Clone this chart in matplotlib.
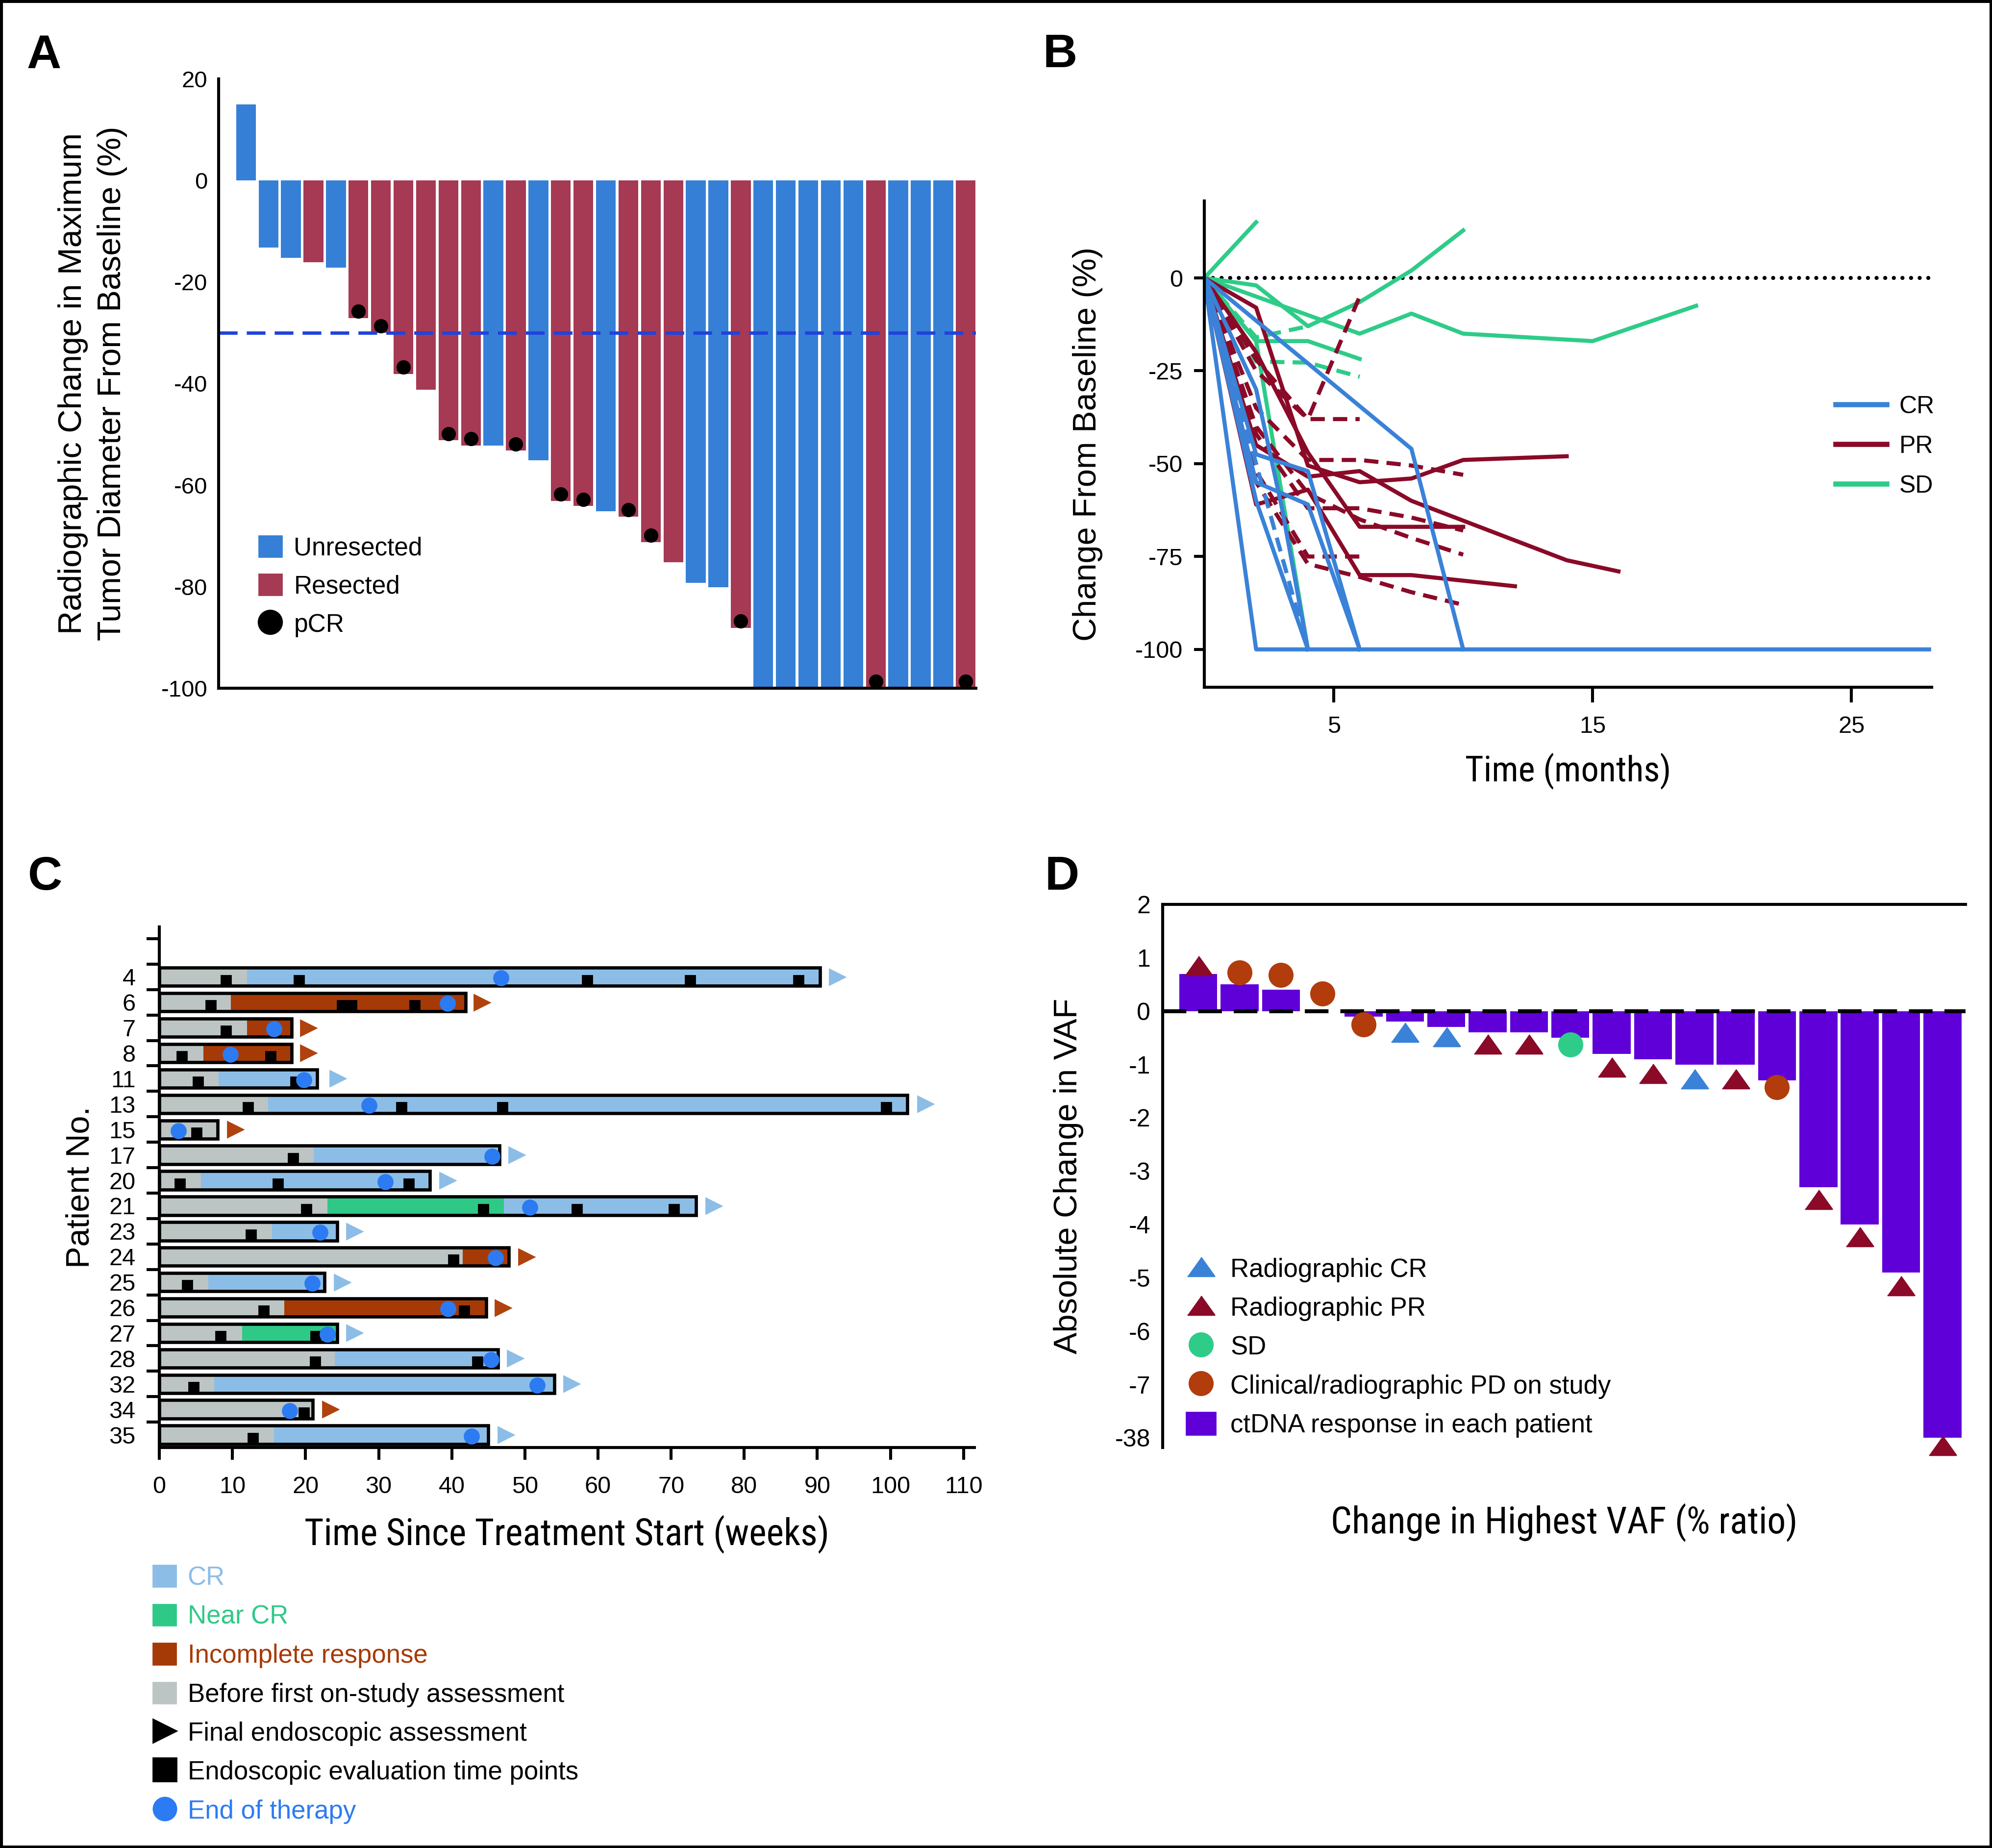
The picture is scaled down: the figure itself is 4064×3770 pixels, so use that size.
import numpy as np
import matplotlib
matplotlib.use('Agg')
import matplotlib.pyplot as plt
from matplotlib import font_manager
from matplotlib.patches import Patch, Rectangle
from matplotlib.lines import Line2D

# ---- panel A: radiographic change (waterfall)
tumor_change = [15, -13.2, -15.2, -16.1, -17.2, -27.1, -30.0, -38.1, -41.2, -51.2, -52.2,
                -52.2, -53.2, -55.1, -63.1, -64.1, -65.2, -66.2, -71.2, -75.2, -79.2, -80.1,
                -88.1, -100, -100, -100, -100, -100, -100, -100, -100, -100, -100]
resected = [0, 0, 0, 1, 0, 1, 1, 1, 1, 1, 1, 0, 1, 0, 1, 1, 0, 1, 1, 1, 0, 0, 1,
            0, 0, 0, 0, 0, 1, 0, 0, 0, 1]
pcr = [0, 0, 0, 0, 0, 1, 1, 1, 0, 1, 1, 0, 1, 0, 1, 1, 0, 1, 1, 0, 0, 0, 1,
       0, 0, 0, 0, 0, 1, 0, 0, 0, 1]

# ---- panel B: change from baseline over time (months, %)
cr_solid = [
    ([0, 2, 28], [0, -100, -100]),
    ([0, 8, 10], [0, -46, -100]),
    ([0, 2, 4, 6], [0, -47.5, -52, -100]),
    ([0, 2, 4, 6], [0, -55, -61, -100]),
    ([0, 2, 4], [0, -60, -100]),
    ([0, 2, 3, 4], [0, -30, -62, -100]),
]
cr_dashed = [
    ([0, 2, 4], [0, -50, -100]),
]
pr_solid = [
    ([0, 2, 4, 6, 8, 10, 14], [0, -8, -50.5, -55, -54, -49, -48]),
    ([0, 2, 4, 6, 8, 14, 16], [0, -45, -53.5, -52, -60, -76, -79]),
    ([0, 2, 4, 6, 8, 12], [0, -61, -57, -80, -80, -83]),
    ([0, 2, 4, 6, 10], [0, -20, -47, -67, -67]),
]
pr_dashed = [
    ([0, 2, 4, 6], [0, -22, -38, -5]),
    ([0, 2, 4, 6], [0, -25, -38, -38]),
    ([0, 2, 4, 6, 8, 10], [0, -35, -49, -49, -50.5, -53]),
    ([0, 2, 4, 6, 8, 10], [0, -42, -62, -62, -64.5, -68]),
    ([0, 2, 4, 6, 8, 10], [0, -40, -58, -65, -70, -74.5]),
    ([0, 2, 4, 6], [0, -52, -75, -75]),
    ([0, 2, 4, 6, 8, 10], [0, -55, -77, -80.5, -84.6, -88]),
]
sd_solid = [
    ([0, 2], [0, 15]),
    ([0, 2, 4, 6, 8, 10], [0, -2, -13, -6.5, 2, 12.8]),
    ([0, 6, 8, 10, 15, 19], [0, -15, -9.6, -15, -17, -7.5]),
    ([0, 2, 4, 6], [0, -17, -17, -21.8]),
    ([0, 2, 4], [0, -17, -100]),
]
sd_dashed = [
    ([0, 2, 4, 6], [0, -22.5, -22.8, -26.6]),
    ([0, 2, 4], [0, -16, -13]),
]

# ---- panel C: swimmer plot (weeks)
patients = ['4', '6', '7', '8', '11', '13', '15', '17', '20', '21', '23', '24', '25',
            '26', '27', '28', '32', '34', '35']
bar_end = [90.4, 41.9, 18.1, 18.1, 21.6, 102.3, 8.0, 46.5, 37.0, 73.4, 24.3, 47.8,
           22.6, 44.7, 24.3, 46.3, 54.0, 21.0, 45.0]
gray_end = [12.0, 9.8, 12.0, 6.0, 8.1, 14.9, 8.0, 21.1, 5.7, 23.0, 15.4, 41.5, 6.7,
            17.1, 11.3, 24.0, 7.5, 21.0, 15.7]
response = ['CR', 'IR', 'IR', 'IR', 'CR', 'CR', 'CR', 'CR', 'CR', 'NCR', 'CR', 'IR',
            'CR', 'IR', 'NCR', 'CR', 'CR', 'CR', 'CR']
cr_from = [None, None, None, None, None, None, None, None, None, 47.1, None, None,
           None, None, None, None, None, None, None]
endo_weeks = [
    [9.1, 19.1, 58.5, 72.6, 87.4],
    [7.0, 25.0, 26.3, 34.9],
    [9.1],
    [3.1, 15.2],
    [5.3, 18.6],
    [12.1, 33.1, 46.9, 99.4],
    [5.1],
    [18.3],
    [2.8, 16.2, 34.1],
    [20.1, 44.3, 57.1, 70.4],
    [12.5],
    [40.2],
    [3.8],
    [14.3, 41.7],
    [8.4, 21.4],
    [21.3, 43.5],
    [4.7],
    [19.8],
    [12.8],
]
end_therapy = [46.7, 39.4, 15.7, 9.7, 19.8, 28.7, 2.6, 45.5, 30.9, 50.7, 22.0, 46.0,
               20.9, 39.5, 23.0, 45.4, 51.7, 17.8, 42.7]
final_assess = [92.7, 44.1, 20.4, 20.4, 24.4, 104.8, 10.4, 48.9, 39.4, 75.8, 26.7,
                50.2, 25.0, 47.0, 26.7, 48.7, 56.4, 23.4, 47.4]
final_outcome = ['CR', 'IR', 'IR', 'IR', 'CR', 'CR', 'IR', 'CR', 'CR', 'CR', 'CR', 'IR',
                 'CR', 'IR', 'CR', 'CR', 'CR', 'IR', 'CR']

# ---- panel D: ctDNA change
vaf_change = [0.7, 0.5, 0.4, 0, -0.1, -0.2, -0.3, -0.4, -0.4, -0.5, -0.8, -0.9, -1.0,
              -1.0, -1.3, -3.3, -4.0, -4.9, -38]
vaf_marker = ['PR', 'PD', 'PD', 'PD', 'PD', 'CR', 'CR', 'PR', 'PR', 'SD', 'PR', 'PR', 'CR',
              'PR', 'PD', 'PR', 'PR', 'PR', 'PR']
vaf_marker_y = [0.85, 0.72, 0.68, 0.33, -0.25, -0.40, -0.48, -0.62, -0.62, -0.63, -1.05,
                -1.17, -1.27, -1.27, -1.43, -3.53, -4.23, -5.15, -42.5]
vaf_ticks = [2, 1, 0, -1, -2, -3, -4, -5, -6, -7, -38]

# colours
A_BLUE, A_RED = '#3580D6', '#A63953'
B_CR, B_PR, B_SD = '#3A82D8', '#8A0A28', '#2ECC88'
C_CR, C_NCR, C_IR, C_GRAY, C_DOT = '#8CBDE6', '#2FC987', '#A63A06', '#BCC4C4', '#2C7BF2'
D_PURPLE, D_PD = '#6000D8', '#B23C0C'


def narrow_font():
    # a condensed face for the x axis titles, if one is around
    fl = font_manager.fontManager.ttflist
    names = {f.name for f in fl}
    for n in ('Liberation Sans Narrow', 'Roboto Condensed', 'Noto Sans Condensed',
              'Open Sans Condensed', 'DejaVu Sans Condensed'):
        if n in names:
            return dict(family=n)
    for pref in ('Roboto', 'Noto Sans', 'Open Sans', 'Liberation Sans', 'DejaVu Sans'):
        for f in fl:
            if f.name == pref and str(f.stretch) in ('condensed', 'semi-condensed'):
                return dict(family=pref, stretch=f.stretch)
    return dict(family='Liberation Sans')


NARROW = narrow_font()
plt.rcParams['font.family'] = ['Liberation Sans', 'DejaVu Sans']
plt.rcParams['axes.unicode_minus'] = False
plt.rcParams['axes.linewidth'] = 2.2
plt.rcParams['xtick.major.width'] = 2.2
plt.rcParams['ytick.major.width'] = 2.2
plt.rcParams['ytick.minor.width'] = 2.2

fig = plt.figure(figsize=(20.32, 18.85), dpi=200)


def clean(ax, keep=('left', 'bottom')):
    for s in ax.spines:
        ax.spines[s].set_visible(s in keep)


# ================= A
axA = fig.add_axes([0.1097, 0.6276, 0.3802, 0.3297])
xa = np.arange(len(tumor_change))
axA.bar(xa, tumor_change, width=0.88, color=[A_RED if r else A_BLUE for r in resected])
pi = [i for i in xa if pcr[i]]
axA.plot(pi, [tumor_change[i] + 1.3 for i in pi], 'o', color='black', ms=9.5, clip_on=False)
axA.axhline(-30, color='#2143DB', lw=2.5, ls=(0, (5.5, 2.7)))
axA.set_xlim(-1.22, 32.45)
axA.set_ylim(-100, 20)
axA.set_yticks(range(20, -101, -20))
axA.set_xticks([])
axA.tick_params(axis='y', length=0, pad=8, labelsize=17)
clean(axA)
axA.set_ylabel('Radiographic Change in Maximum\nTumor Diameter From Baseline (%)',
               fontsize=24, linespacing=1.38)
axA.yaxis.set_label_coords(-0.120, 0.5)
hA = [Patch(color=A_BLUE), Patch(color=A_RED),
      Line2D([], [], ls='', marker='o', color='black', ms=17.5)]
axA.legend(hA, ['Unresected', 'Resected', 'pCR'], loc='upper left',
           bbox_to_anchor=(0.1299, 0.7101), bbox_transform=fig.transFigure,
           frameon=False, fontsize=18.5, borderpad=0, borderaxespad=0,
           handlelength=0.91, handleheight=0.91, handletextpad=0.48, labelspacing=0.55)

# ================= B
axB = fig.add_axes([0.6046, 0.6281, 0.3651, 0.2631])
axB.axhline(0, color='black', lw=3.0, ls=(0, (0.01, 2.1)), dash_capstyle='round')
LW = 3.0
for xs, ys in sd_solid:
    axB.plot(xs, ys, color=B_SD, lw=LW)
for xs, ys in sd_dashed:
    axB.plot(xs, ys, color=B_SD, lw=LW, ls=(0, (3.5, 2)))
for xs, ys in pr_solid:
    axB.plot(xs, ys, color=B_PR, lw=LW)
for xs, ys in pr_dashed:
    axB.plot(xs, ys, color=B_PR, lw=LW, ls=(0, (3.5, 2)))
for xs, ys in cr_solid:
    axB.plot(xs, ys, color=B_CR, lw=LW)
for xs, ys in cr_dashed:
    axB.plot(xs, ys, color=B_CR, lw=LW, ls=(0, (3.5, 2)))
axB.set_xlim(0, 28.1)
axB.set_ylim(-110.2, 20.7)
axB.set_xticks([5, 15, 25])
axB.set_yticks([0, -25, -50, -75, -100])
axB.tick_params(axis='x', length=11, pad=10, labelsize=17.5)
axB.tick_params(axis='y', length=7.7, pad=8, labelsize=17.5)
clean(axB)
axB.set_ylabel('Change From Baseline (%)', fontsize=24)
axB.yaxis.set_label_coords(-0.1395, 0.5)
axB.set_xlabel('Time (months)', fontsize=29, **NARROW)
axB.xaxis.set_label_coords(0.5, -0.134)
hB = [Line2D([], [], color=c, lw=3.8) for c in (B_CR, B_PR, B_SD)]
axB.legend(hB, ['CR', 'PR', 'SD'], loc='upper left', bbox_to_anchor=(0.9215, 0.7860),
           bbox_transform=fig.transFigure, frameon=False, fontsize=18, borderpad=0,
           borderaxespad=0, handlelength=2.08, handletextpad=0.52, labelspacing=0.7)

# ================= C
axC = fig.add_axes([0.0800, 0.2167, 0.4092, 0.2817])
rows = np.arange(len(patients))
seg_color = {'CR': C_CR, 'NCR': C_NCR, 'IR': C_IR}
axC.barh(rows, gray_end, height=0.72, color=C_GRAY)
for r in rows:
    stop = cr_from[r] if cr_from[r] is not None else bar_end[r]
    axC.barh(r, stop - gray_end[r], left=gray_end[r], height=0.72, color=seg_color[response[r]])
    if cr_from[r] is not None:
        axC.barh(r, bar_end[r] - cr_from[r], left=cr_from[r], height=0.72, color=C_CR)
axC.barh(rows, bar_end, height=0.72, fill=False, edgecolor='black', lw=2.4)
ex = [w for r in rows for w in endo_weeks[r]]
ey = [r + 0.13 for r in rows for w in endo_weeks[r]]
axC.plot(ex, ey, 's', color='black', ms=7)
axC.plot(end_therapy, rows + 0.05, 'o', color=C_DOT, ms=10.8)
for outcome, col in (('CR', C_CR), ('IR', '#B0420D')):
    sel = [r for r in rows if final_outcome[r] == outcome]
    axC.plot([final_assess[r] for r in sel], sel, '>', color=col, ms=11.5, clip_on=False)
axC.set_xlim(0, 111.5)
axC.set_ylim(18.5, -1.96)
axC.set_xticks(range(0, 111, 10))
axC.set_yticks(rows)
axC.set_yticklabels(patients)
axC.set_yticks(np.arange(-1.5, 18.0, 1.0), minor=True)
axC.tick_params(axis='x', length=9, pad=12, labelsize=17.5)
axC.tick_params(axis='y', which='major', length=0, pad=17.5, labelsize=17.5)
axC.tick_params(axis='y', which='minor', length=9.4)
clean(axC)
axC.set_ylabel('Patient No.', fontsize=24)
axC.yaxis.set_label_coords(-0.078, 0.5)
axC.set_xlabel('Time Since Treatment Start (weeks)', fontsize=29, **NARROW)
axC.xaxis.set_label_coords(0.5, -0.129)
hC = [Patch(color=C_CR), Patch(color=C_NCR), Patch(color=C_IR), Patch(color=C_GRAY),
      Line2D([], [], ls='', marker='>', color='black', ms=17),
      Line2D([], [], ls='', marker='s', color='black', ms=17),
      Line2D([], [], ls='', marker='o', color=C_DOT, ms=17)]
axC.legend(hC, ['CR', 'Near CR', 'Incomplete response', 'Before first on-study assessment',
                'Final endoscopic assessment', 'Endoscopic evaluation time points',
                'End of therapy'],
           labelcolor=[C_CR, C_NCR, C_IR, 'black', 'black', 'black', C_DOT],
           loc='upper left', bbox_to_anchor=(0.0768, 0.1530), bbox_transform=fig.transFigure,
           frameon=False, fontsize=19, borderpad=0, borderaxespad=0, handlelength=0.89,
           handleheight=0.89, handletextpad=0.45, labelspacing=0.54)

# ================= D
axD = fig.add_axes([0.5837, 0.2167, 0.4030, 0.2939])


def squash(y):
    y = np.asarray(y, dtype=float)
    return np.where(y < -7, -7 + (y + 7) / 31.0, y)


def unsquash(y):
    y = np.asarray(y, dtype=float)
    return np.where(y < -7, -7 + (y + 7) * 31.0, y)


axD.set_yscale('function', functions=(squash, unsquash))
xd = np.arange(len(vaf_change))
axD.bar(xd, vaf_change, width=0.92, color=D_PURPLE)
axD.axhline(0, color='black', lw=2.9, ls=(0, (6, 3)))
tri = [(-1, -0.7), (1, -0.7), (0, 0.7)]
mstyle = {'CR': dict(marker=tri, color=B_CR, ms=20),
          'PR': dict(marker=tri, color=B_PR, ms=20),
          'SD': dict(marker='o', color=B_SD, ms=17.4),
          'PD': dict(marker='o', color=D_PD, ms=17.4)}
for key, st in mstyle.items():
    sel = [i for i in xd if vaf_marker[i] == key]
    axD.plot(sel, [vaf_marker_y[i] for i in sel], ls='', clip_on=False, zorder=4, **st)
axD.set_xlim(-0.86, 18.56)
axD.set_ylim(-43.6, 2)
axD.set_yticks(vaf_ticks)
axD.set_yticklabels([str(v) for v in vaf_ticks])
axD.set_xticks([])
axD.tick_params(axis='y', length=0, pad=9, labelsize=18)
clean(axD, keep=('left', 'top'))
axD.set_ylabel('Absolute Change in VAF', fontsize=24)
axD.yaxis.set_label_coords(-0.0985, 0.5)
axD.set_xlabel('Change in Highest VAF (% ratio)', fontsize=29, **NARROW)
axD.xaxis.set_label_coords(0.5, -0.102)
hD = [Line2D([], [], ls='', **mstyle[k]) for k in ('CR', 'PR', 'SD', 'PD')]
hD.append(Patch(color=D_PURPLE))
axD.legend(hD, ['Radiographic CR', 'Radiographic PR', 'SD', 'Clinical/radiographic PD on study',
                'ctDNA response in each patient'],
           loc='upper left', bbox_to_anchor=(0.5955, 0.3200), bbox_transform=fig.transFigure,
           frameon=False, fontsize=19, borderpad=0, borderaxespad=0, handlelength=1.14,
           handleheight=0.95, handletextpad=0.57, labelspacing=0.52)

# x axis titles: size them to the width they take in the original
renderer = fig.canvas.get_renderer()
for ax, width_px in ((axB, 420), (axC, 1070), (axD, 952)):
    lab = ax.xaxis.label
    w = lab.get_window_extent(renderer).width
    lab.set_fontsize(lab.get_fontsize() * width_px / w)

# panel letters and frame
for lab, x, y in (('A', 55, 139), ('B', 2128, 137), ('C', 57, 1815), ('D', 2131, 1815)):
    fig.text(x / 4064, 1 - y / 3770, lab, fontsize=35, fontweight='bold', va='baseline')
fig.add_artist(Rectangle((0, 0), 1, 1, transform=fig.transFigure, fill=False,
                         lw=4, edgecolor='black'))

fig.savefig('out.png', dpi=200)
